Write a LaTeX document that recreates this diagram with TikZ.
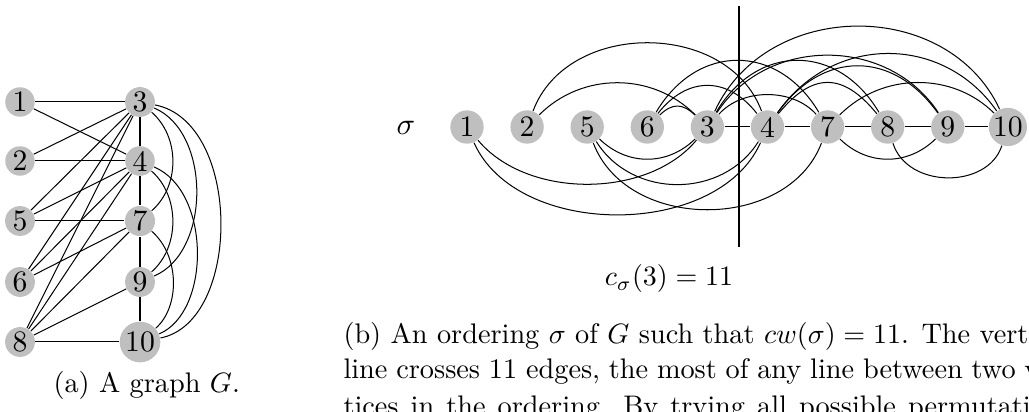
\documentclass[tikz,border=0pt]{standalone}
\begin{document}
\begin{tikzpicture}[x=0.357pt,y=-0.357pt,line width=0.36pt,
  gn/.style={circle,fill=black!25,inner sep=0.6pt,font=\fontsize{10.6}{12}\selectfont},
  on/.style={circle,fill=black!25,inner sep=0.3pt,minimum size=11.9pt,font=\fontsize{10.6}{12}\selectfont},
  capt/.style={anchor=base west,inner sep=0pt,font=\fontsize{10.1}{12}\selectfont},
  lbl/.style={anchor=base,inner sep=0pt,font=\fontsize{10.2}{12}\selectfont}]
\useasboundingbox (0,0) rectangle (1029,412);
\clip (0,0) rectangle (1029,412);
% ---------- (a) graph G
\node[gn] (a1) at (20,102) {1};
\node[gn] (a2) at (20,161) {2};
\node[gn] (a5) at (20,221) {5};
\node[gn] (a6) at (20,282) {6};
\node[gn] (a8) at (20,342) {8};
\node[gn] (a3) at (140,102) {3};
\node[gn] (a4) at (140,161) {4};
\node[gn] (a7) at (140,221) {7};
\node[gn] (a9) at (140,282) {9};
\node[gn] (a10) at (140,342) {10};
\foreach \u/\v in {a1/a3,a1/a4,a2/a3,a2/a4,a5/a3,a5/a4,a5/a7,a6/a3,a6/a4,a6/a7,
  a8/a3,a8/a4,a8/a7,a8/a9,a8/a10,a3/a4,a4/a7,a7/a9,a9/a10}
  \draw (\u) -- (\v);
\draw (a3) .. controls +(40,35) and +(40,-35) .. (a7);
\draw (a3) .. controls +(71,30) and +(71,-30) .. (a9);
\draw (a3) .. controls +(102,20) and +(102,-20) .. (a10);
\draw (a4) .. controls +(40,35) and +(40,-35) .. (a9);
\draw (a4) .. controls +(71,30) and +(71,-30) .. (a10);
\draw (a7) .. controls +(40,35) and +(40,-35) .. (a10);
\node[capt] (capa) at (53,393) {(a) A graph $G$.};
% ---------- (b) ordering sigma
\node[lbl,font=\fontsize{11}{12}\selectfont] (sig) at (406,135) {$\sigma$};
\node[on] (n1) at (467,127) {1};
\node[on] (n2) at (527.1,127) {2};
\node[on] (n5) at (587.2,127) {5};
\node[on] (n6) at (647.3,127) {6};
\node[on] (n3) at (707.4,127) {3};
\node[on] (n4) at (767.5,127) {4};
\node[on] (n7) at (827.6,127) {7};
\node[on] (n8) at (887.7,127) {8};
\node[on] (n9) at (947.8,127) {9};
\node[on] (n10) at (1007.9,127) {10};
\foreach \u/\v in {n3/n4,n4/n7,n7/n8,n8/n9,n9/n10}
  \draw (\u) -- (\v);
% arcs above
\draw (n2) .. controls +(40,-107) and +(-40,-107) .. (n4);
\draw (n2) .. controls +(55,-55) and +(-55,-55) .. (n3);
\draw (n6) .. controls +(25,-24) and +(-25,-24) .. (n3);
\draw (n6) .. controls +(40,-51) and +(-40,-51) .. (n4);
\draw (n6) .. controls +(50,-84) and +(-50,-84) .. (n7);
\draw (n3) .. controls +(35,-39) and +(-35,-39) .. (n7);
\draw (n3) .. controls +(50,-84) and +(-50,-84) .. (n8);
\draw (n3) .. controls +(60,-91) and +(-60,-91) .. (n9);
\draw (n3) .. controls +(60,-129) and +(-60,-129) .. (n10);
\draw (n4) .. controls +(45,-55) and +(-45,-55) .. (n8);
\draw (n4) .. controls +(55,-77) and +(-55,-77) .. (n9);
\draw (n4) .. controls +(65,-93) and +(-65,-93) .. (n10);
\draw (n7) .. controls +(55,-55) and +(-55,-55) .. (n10);
% arcs below
\draw (n1) .. controls +(60,72) and +(-60,72) .. (n3);
\draw (n1) .. controls +(50,112) and +(-50,112) .. (n4);
\draw (n5) .. controls +(40,39) and +(-40,39) .. (n3);
\draw (n5) .. controls +(45,72) and +(-45,72) .. (n4);
\draw (n5) .. controls +(40,105) and +(-40,105) .. (n7);
\draw (n7) .. controls +(40,39) and +(-40,39) .. (n9);
\draw (n8) .. controls +(20,62) and +(-20,62) .. (n10);
% cut line
\coordinate (vt) at (739,6);
\coordinate (vb) at (739,247);
\draw (vt) -- (vb);
\node[lbl] (clab) at (669,286) {$c_\sigma(3) = 11$};
% caption (b)
\node[capt] (cb1) at (343,344) {(b) An ordering $\sigma$ of $G$ such that $cw(\sigma) = 11$. The vertical};
\node[capt] (cb2) at (343,378.5) {\spaceskip=3.15pt plus 1pt\relax line crosses 11 edges, the most of any line between two ver-};
\node[capt] (cb3) at (343,416) {\spaceskip=4.3pt plus 1pt\relax\xspaceskip=5.5pt plus 1pt\relax tices in the ordering. By trying all possible permutations};
\end{tikzpicture}
\end{document}
